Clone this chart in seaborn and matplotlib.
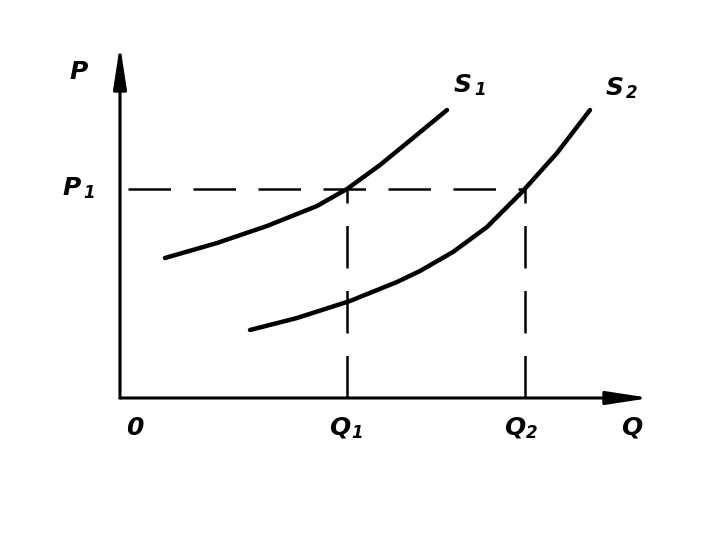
import numpy as np
import pandas as pd
import seaborn as sns
import matplotlib.pyplot as plt

# supply curves (Q, P)
q_s1 = [45, 97, 147, 197, 227, 260, 293, 327]
p_s1 = [140, 155, 172, 192, 209, 233, 260, 288]
q_s2 = [130, 177, 230, 277, 300, 333, 367, 402, 437, 470]
p_s2 = [68, 80, 97, 116, 127, 146, 171, 206, 245, 288]

q1, q2, p1 = 227, 405, 209
q_max, p_max = 530, 353

s1 = pd.DataFrame({"Q": q_s1, "P": p_s1})
s2 = pd.DataFrame({"Q": q_s2, "P": p_s2})

sns.set_style("white")
fig = plt.figure(figsize=(7.2, 5.4), dpi=100)
ax = fig.add_axes([0, 0, 1, 1])
ax.set_xlim(-120, 600)
ax.set_ylim(-142, 398)
ax.axis("off")

sns.lineplot(data=s1, x="Q", y="P", color="black", lw=3.2, sort=False, ax=ax)
sns.lineplot(data=s2, x="Q", y="P", color="black", lw=3.2, sort=False, ax=ax)

dash = (0, (17, 9))
ax.plot([8, q2], [p1, p1], color="black", lw=1.8, ls=dash)
ax.plot([q1, q1], [0, p1], color="black", lw=1.8, ls=dash)
ax.plot([q2, q2], [0, p1], color="black", lw=1.8, ls=dash)

# axes with arrows
arrow = dict(arrowstyle="-|>,head_length=1.3,head_width=0.2", lw=2.2,
             color="black", mutation_scale=20, shrinkA=0, shrinkB=0)
ax.annotate("", xy=(q_max, 0), xytext=(0, 0), arrowprops=arrow)
ax.annotate("", xy=(0, p_max), xytext=(0, 0), arrowprops=arrow)


def label(x, y, main, sub=None):
    ax.text(x, y, main, fontsize=18, fontweight="bold", fontstyle="italic",
            color="black", ha="center", va="center")
    if sub:
        ax.text(x + 17, y - 5, sub, fontsize=12, fontweight="bold",
                fontstyle="italic", color="black", ha="center", va="center")


label(-41, 326, "P")
label(-48, 210, "P", "1")
label(15, -30, "0")
label(220, -30, "Q", "1")
label(395, -30, "Q", "2")
label(512, -30, "Q")
label(343, 313, "S", "1")
label(495, 310, "S", "2")

plt.savefig("out.png")
